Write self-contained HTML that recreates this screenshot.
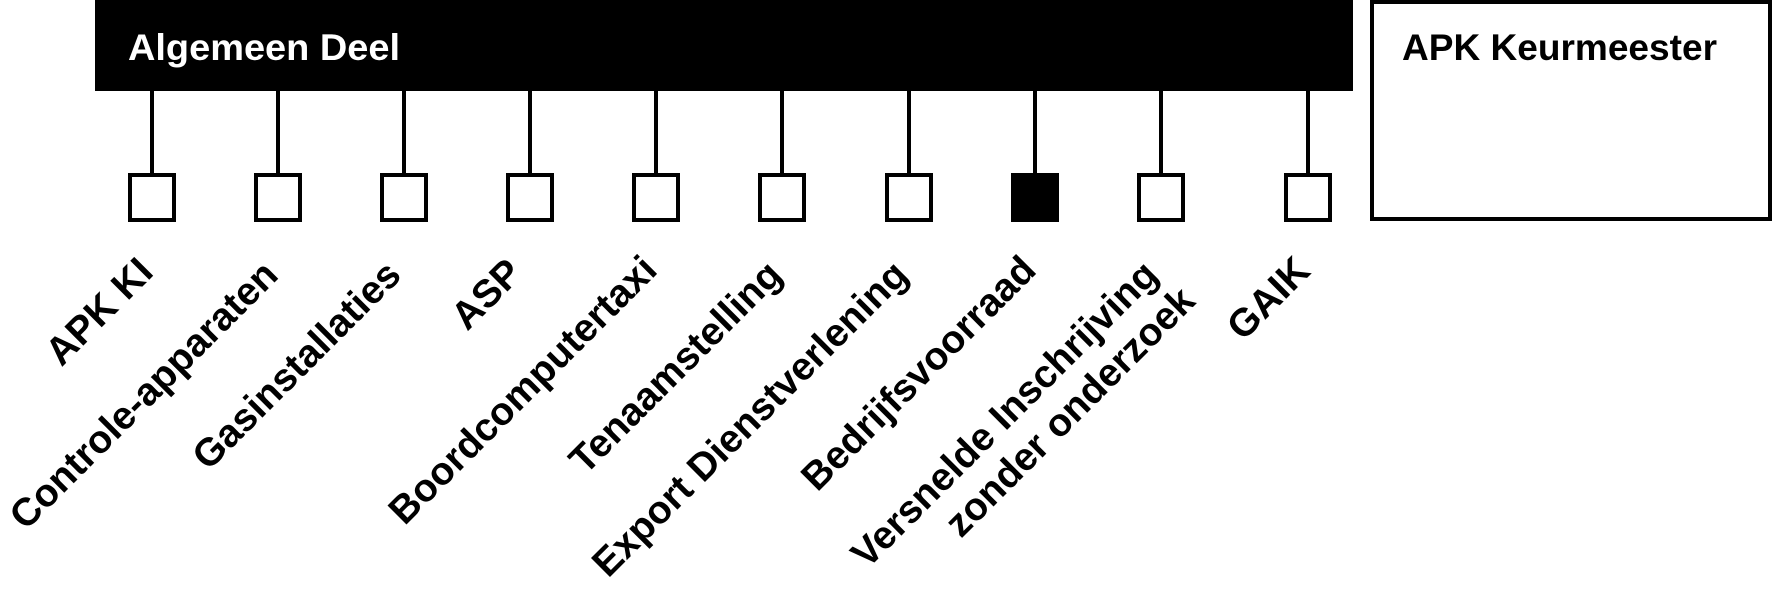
<!DOCTYPE html>
<html><head><meta charset="utf-8"><style>
html,body{margin:0;padding:0;background:#fff;}
svg{display:block;}
text{font-family:"Liberation Sans",sans-serif;font-weight:bold;}
</style></head><body>
<svg width="1772" height="601" viewBox="0 0 1772 601" xmlns="http://www.w3.org/2000/svg">
<rect x="95" y="0" width="1258" height="91" fill="#000"/>
<text x="128" y="60" font-size="37" fill="#fff" textLength="272" lengthAdjust="spacingAndGlyphs">Algemeen Deel</text>
<rect x="1372" y="2" width="398" height="217" fill="#fff" stroke="#000" stroke-width="4"/>
<text x="1402" y="60" font-size="37" fill="#000" textLength="315" lengthAdjust="spacingAndGlyphs">APK Keurmeester</text>
<g stroke="#000" stroke-width="4" fill="#fff">
<line x1="152" y1="90" x2="152" y2="175"/><rect x="130" y="175" width="44" height="45"/>
<line x1="278" y1="90" x2="278" y2="175"/><rect x="256" y="175" width="44" height="45"/>
<line x1="404" y1="90" x2="404" y2="175"/><rect x="382" y="175" width="44" height="45"/>
<line x1="530" y1="90" x2="530" y2="175"/><rect x="508" y="175" width="44" height="45"/>
<line x1="656" y1="90" x2="656" y2="175"/><rect x="634" y="175" width="44" height="45"/>
<line x1="782" y1="90" x2="782" y2="175"/><rect x="760" y="175" width="44" height="45"/>
<line x1="909" y1="90" x2="909" y2="175"/><rect x="887" y="175" width="44" height="45"/>
<line x1="1035" y1="90" x2="1035" y2="175"/><rect x="1013" y="175" width="44" height="45" fill="#000"/>
<line x1="1161" y1="90" x2="1161" y2="175"/><rect x="1139" y="175" width="44" height="45"/>
<line x1="1308" y1="90" x2="1308" y2="175"/><rect x="1286" y="175" width="44" height="45"/>
</g>
<g font-size="39" fill="#000" text-anchor="end">
<text transform="translate(155,274) rotate(-45)">APK KI</text>
<text transform="translate(280,277) rotate(-45)">Controle-apparaten</text>
<text transform="translate(403,277) rotate(-45)">Gasinstallaties</text>
<text transform="translate(524,275) rotate(-45)">ASP</text>
<text transform="translate(659,272) rotate(-45)">Boordcomputertaxi</text>
<text transform="translate(784,277) rotate(-45)">Tenaamstelling</text>
<text transform="translate(910,277) rotate(-45)">Export Dienstverlening</text>
<text transform="translate(1038,272) rotate(-45)">Bedrijfsvoorraad</text>
<text transform="translate(1160,277) rotate(-45)">Versnelde Inschrijving</text>
<text transform="translate(1197,303) rotate(-45)">zonder onderzoek</text>
<text transform="translate(1312,273) rotate(-45)">GAIK</text>
</g>
</svg>
</body></html>
